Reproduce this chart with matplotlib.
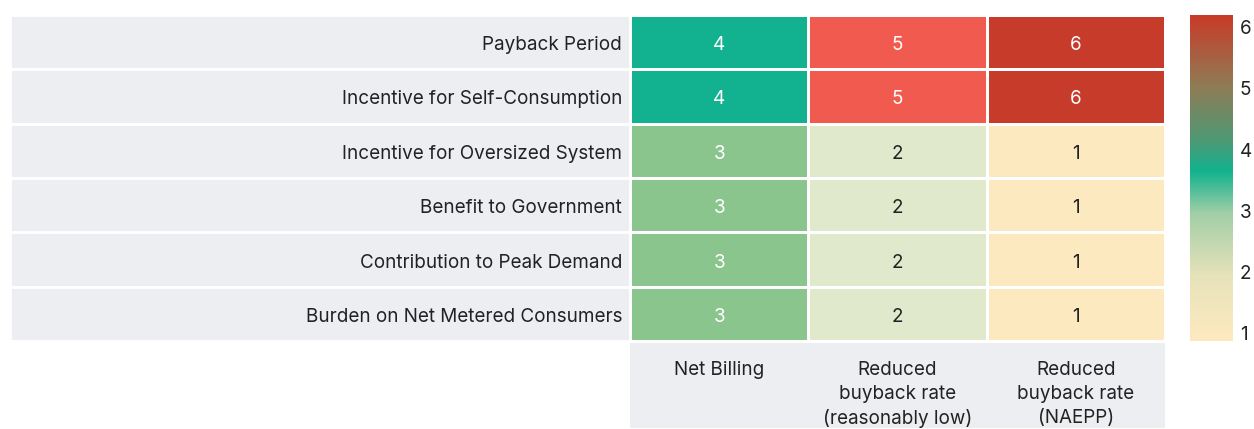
import numpy as np
import matplotlib
matplotlib.use("Agg")
import matplotlib.pyplot as plt
from matplotlib.colors import ListedColormap, BoundaryNorm, LinearSegmentedColormap, Normalize
from matplotlib.patches import Rectangle
from matplotlib.cm import ScalarMappable

plt.rcParams['font.family'] = ['Inter', 'DejaVu Sans']

# 数据
rows = ["Payback Period", "Incentive for Self-Consumption", "Incentive for Oversized System",
        "Benefit to Government", "Contribution to Peak Demand", "Burden on Net Metered Consumers"]
cols = ["Net Billing", "Reduced\nbuyback rate\n(reasonably low)", "Reduced\nbuyback rate\n(NAEPP)"]
net_billing = [4, 4, 3, 3, 3, 3]
reduced_low = [5, 5, 2, 2, 2, 2]
reduced_naepp = [6, 6, 1, 1, 1, 1]
cbar_ticks = [1, 2, 3, 4, 5, 6]

values = np.array([net_billing, reduced_low, reduced_naepp]).T

# 单元格颜色 (1..6)
cell_colors = ["#FDE9C0", "#E1E9CC", "#8AC58E", "#12B18F", "#F15A4F", "#C63B29"]
cmap_cells = ListedColormap(cell_colors)
norm_cells = BoundaryNorm(np.arange(0.5, 7.5, 1), cmap_cells.N)

# 颜色条的渐变
cbar_cmap = LinearSegmentedColormap.from_list("cb", [
    (0.0, "#FDE9C0"), (0.2, "#E6E2BA"), (0.39, "#A2CEA6"),
    (0.52, "#12B28F"), (0.62, "#4F9874"), (0.78, "#8E7C55"), (1.0, "#C83B28")])

W, H = 1254, 429
FS = 13.6
TXT = "#222222"
fig = plt.figure(figsize=(W / 100, H / 100), dpi=100)

# 热力图位置（像素）
x0, x1, y0, y1 = 630, 1165, 15, 341
ax = fig.add_axes([x0 / W, 1 - y1 / H, (x1 - x0) / W, (y1 - y0) / H])
ax.pcolormesh(np.arange(4), np.arange(7), values, cmap=cmap_cells, norm=norm_cells,
              edgecolors="white", linewidth=2)
ax.set_xlim(0, 3)
ax.set_ylim(6, 0)
ax.axis("off")

col_px = (x1 - x0) / 3
row_px = (y1 - y0) / 6
label_w = (x0 - 10) / col_px
dy = 3 / row_px

for i, name in enumerate(rows):
    # 行标签背景
    ax.add_patch(Rectangle((-label_w, i), label_w, 1, facecolor="#EDEEF2",
                           edgecolor="white", linewidth=2, clip_on=False, zorder=0))
    ax.text(-8 / col_px, i + 0.5 + dy, name, ha="right", va="center", fontsize=FS,
            color=TXT)
    for j in range(3):
        v = values[i, j]
        ax.text(j + 0.5, i + 0.5 + dy, str(v), ha="center", va="center", fontsize=FS,
                color="white" if v >= 3 else TXT)

# 列标签背景
gap = 2 / row_px
ax.add_patch(Rectangle((0, 6 + gap), 3, (428 - 343) / row_px, facecolor="#EDEEF2",
                       edgecolor="none", clip_on=False, zorder=0))
for j, name in enumerate(cols):
    ax.text(j + 0.5, 6 + 20 / row_px, name, ha="center", va="top", fontsize=FS,
            color=TXT, linespacing=1.42)

# 颜色条
cax = fig.add_axes([1190 / W, 1 - 341 / H, 43 / W, 326 / H])
sm = ScalarMappable(norm=Normalize(vmin=0.87, vmax=6.2), cmap=cbar_cmap)
cb = fig.colorbar(sm, cax=cax, ticks=cbar_ticks)
cb.outline.set_visible(False)
cb.ax.tick_params(length=0, labelsize=FS, pad=5, colors=TXT)

fig.savefig("out.png", dpi=100)
